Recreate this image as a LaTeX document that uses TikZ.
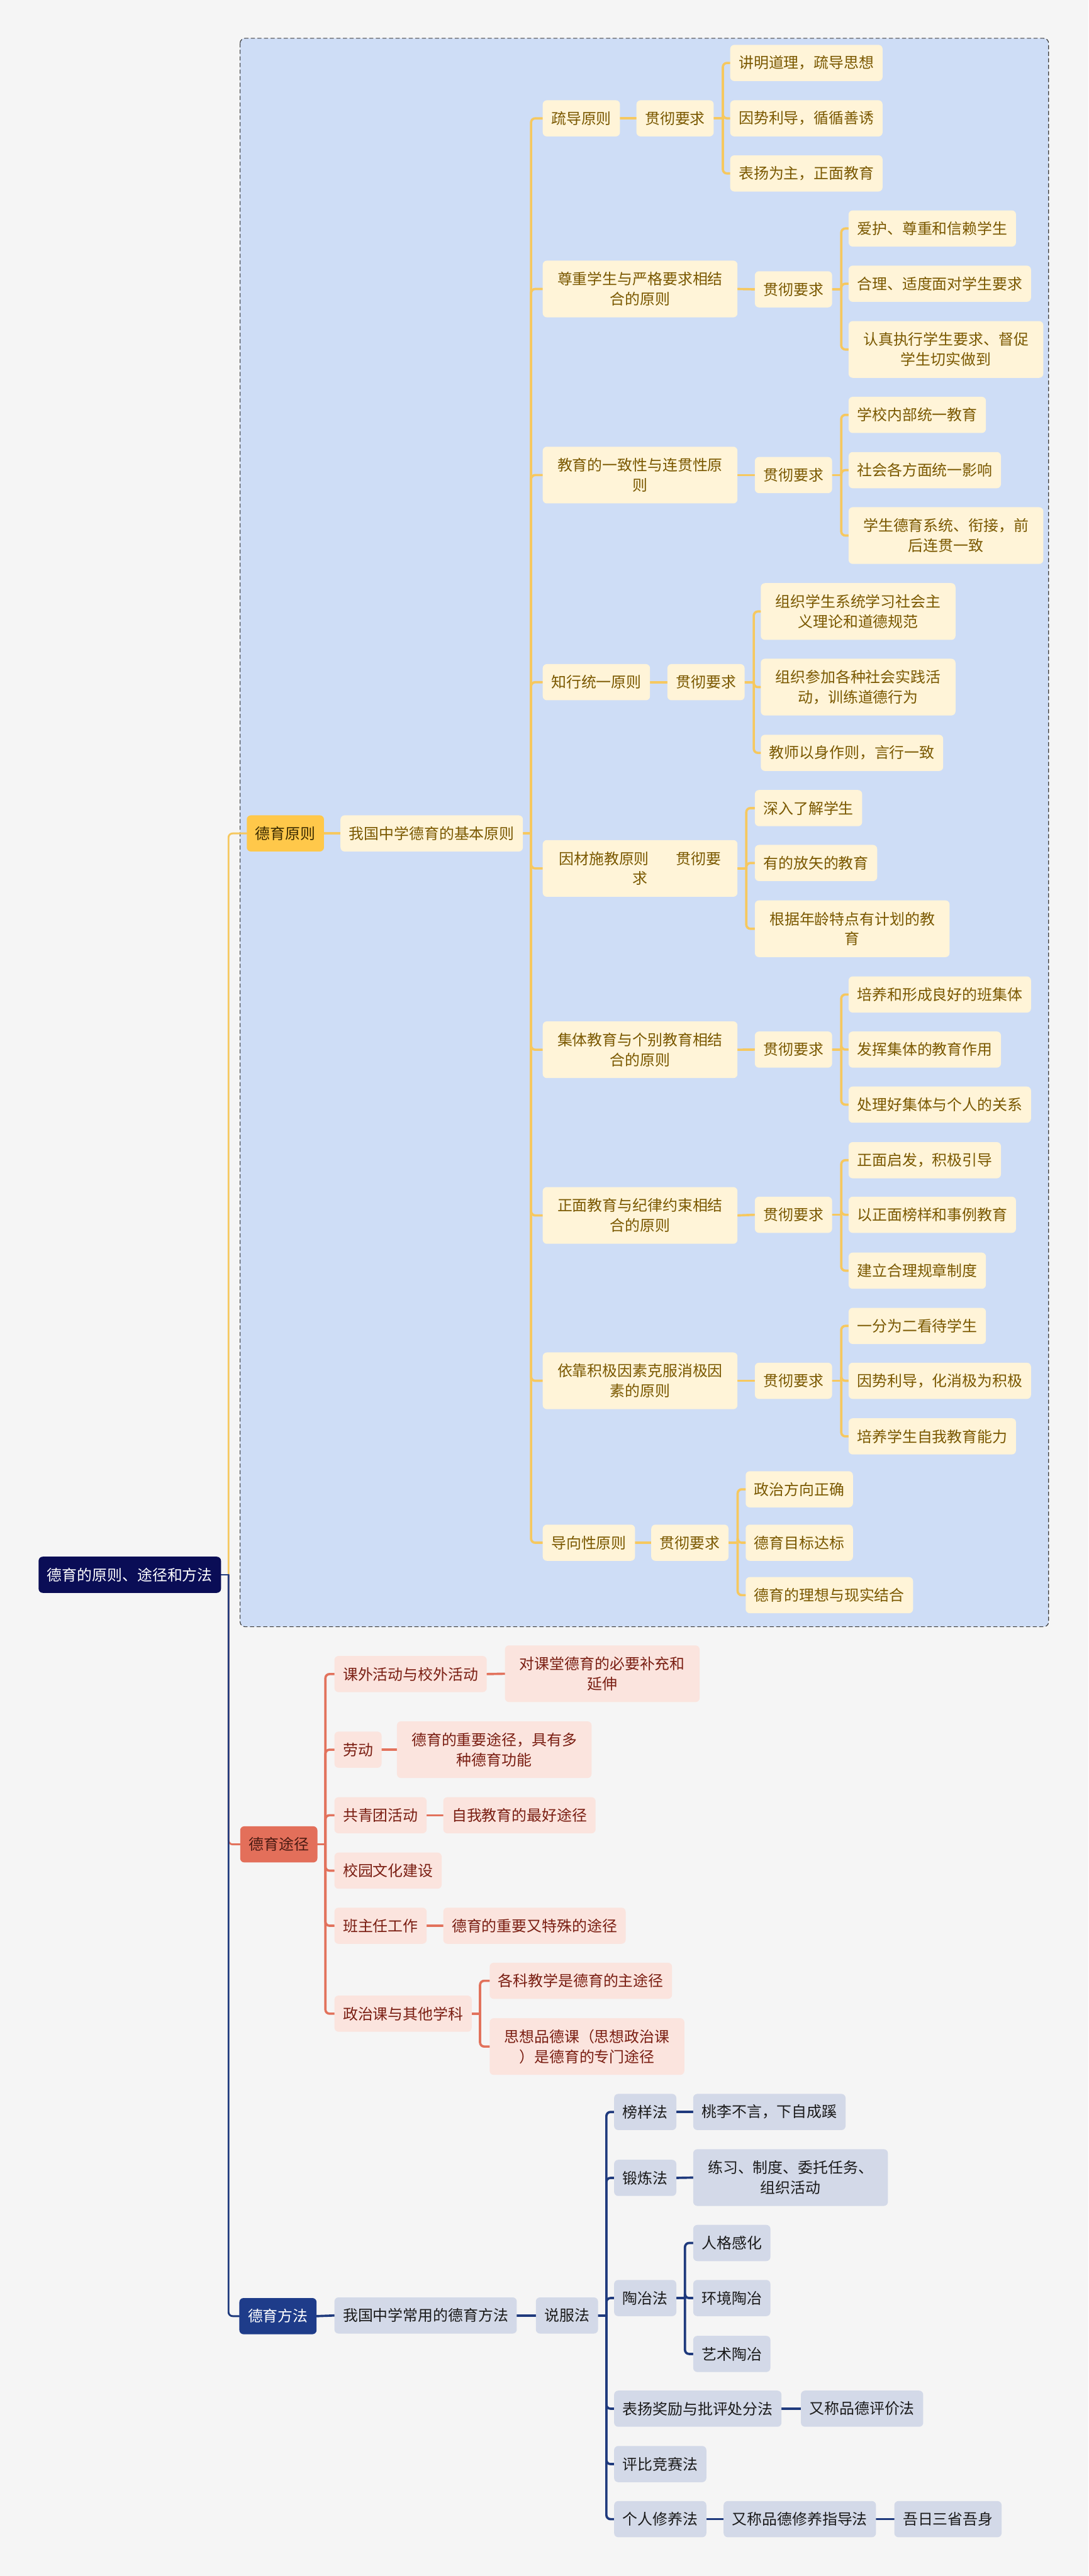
\documentclass[tikz,border=0pt]{standalone}
\usepackage{fontspec}
\newfontfamily\cjk{Noto Sans CJK SC}
\pgfdeclarelayer{bg}
\pgfdeclarelayer{links}
\pgfsetlayers{bg,links,main}
\definecolor{bgpaper}{HTML}{F5F5F5}
\definecolor{framefill}{HTML}{CEDDF6}
\definecolor{framedraw}{HTML}{3A3A3A}
\definecolor{rootfill}{HTML}{0A0D56}
\definecolor{goldfill}{HTML}{FFC84A}
\definecolor{goldtext}{HTML}{3B2B00}
\definecolor{creamfill}{HTML}{FFF4D8}
\definecolor{creamtext}{HTML}{7A5800}
\definecolor{goldline}{HTML}{F6C85F}
\definecolor{coralfill}{HTML}{E36F5A}
\definecolor{coraltext}{HTML}{4A1A12}
\definecolor{pinkfill}{HTML}{FBE4DE}
\definecolor{pinktext}{HTML}{7A1E12}
\definecolor{coralline}{HTML}{E2725C}
\definecolor{navyfill}{HTML}{1E3C8A}
\definecolor{greyfill}{HTML}{D3D9E8}
\definecolor{greytext}{HTML}{1A1A1A}
\definecolor{navyline}{HTML}{1F3A7D}

\begin{document}
\begin{tikzpicture}[x=1mm, y=-1mm,
  box/.style={anchor=west, rounded corners=2.5mm, inner xsep=5.2mm, inner ysep=1.5mm,
    minimum height=22mm, font=\cjk\fontsize{26}{34.6}\selectfont},
  two/.style={text width=108mm, align=center, minimum height=34.5mm},
  gold/.style={box, fill=creamfill, text=creamtext},
  coral/.style={box, fill=pinkfill, text=pinktext},
  navy/.style={box, fill=greyfill, text=greytext},
  gl/.style={draw=goldline, line width=1.4mm, line cap=round, rounded corners=2.5mm},
  cl/.style={draw=coralline, line width=1.4mm, line cap=round, rounded corners=2.5mm},
  nl/.style={draw=navyline, line width=1.4mm, line cap=round, rounded corners=2.5mm}]
  \useasboundingbox (0,0) rectangle (662,1567.1);

  % root and main branches
  \node[box, fill=rootfill, text=white] (root) at (23.4,958) {德育的原则、途径和方法};
  \node[box, fill=goldfill, text=goldtext] (yuanze) at (150,507) {德育原则};
  \node[box, fill=coralfill, text=coraltext] (tujing) at (146,1122) {德育途径};
  \node[box, fill=navyfill, text=white] (fangfa) at (145.5,1409) {德育方法};

  % principles
  \node[gold] (jiben) at (207,507) {我国中学德育的基本原则};

  \node[gold] (p1) at (330,72) {疏导原则};
  \node[gold] (q1) at (387,72) {贯彻要求};
  \node[gold] (p1a) at (444,38.3) {讲明道理，疏导思想};
  \node[gold] (p1b) at (444,72) {因势利导，循循善诱};
  \node[gold] (p1c) at (444,105.5) {表扬为主，正面教育};

  \node[gold, two] (p2) at (330,175.8) {尊重学生与严格要求相结\\合的原则};
  \node[gold] (q2) at (459,176) {贯彻要求};
  \node[gold] (p2a) at (516,139) {爱护、尊重和信赖学生};
  \node[gold] (p2b) at (516,172.6) {合理、适度面对学生要求};
  \node[gold, two] (p2c) at (516,212.6) {认真执行学生要求、督促\\学生切实做到};

  \node[gold, two] (p3) at (330,289) {教育的一致性与连贯性原\\则};
  \node[gold] (q3) at (459,289) {贯彻要求};
  \node[gold] (p3a) at (516,252.4) {学校内部统一教育};
  \node[gold] (p3b) at (516,286) {社会各方面统一影响};
  \node[gold, two] (p3c) at (516,325.8) {学生德育系统、衔接，前\\后连贯一致};

  \node[gold] (p4) at (330,415) {知行统一原则};
  \node[gold] (q4) at (405.8,415) {贯彻要求};
  \node[gold, two] (p4a) at (462.6,372) {组织学生系统学习社会主\\义理论和道德规范};
  \node[gold, two] (p4b) at (462.6,418) {组织参加各种社会实践活\\动，训练道德行为};
  \node[gold] (p4c) at (462.6,458) {教师以身作则，言行一致};

  \node[gold, two] (p5) at (330,528.3) {因材施教原则\hspace{1.8em}贯彻要\\求};
  \node[gold] (p5a) at (459,491.6) {深入了解学生};
  \node[gold] (p5b) at (459,525) {有的放矢的教育};
  \node[gold, two] (p5c) at (459,565) {根据年龄特点有计划的教\\育};

  \node[gold, two] (p6) at (330,638.6) {集体教育与个别教育相结\\合的原则};
  \node[gold] (q6) at (459,638.5) {贯彻要求};
  \node[gold] (p6a) at (516,605) {培养和形成良好的班集体};
  \node[gold] (p6b) at (516,638.5) {发挥集体的教育作用};
  \node[gold] (p6c) at (516,672) {处理好集体与个人的关系};

  \node[gold, two] (p7) at (330,739.4) {正面教育与纪律约束相结\\合的原则};
  \node[gold] (q7) at (459,739) {贯彻要求};
  \node[gold] (p7a) at (516,705.8) {正面启发，积极引导};
  \node[gold] (p7b) at (516,739) {以正面榜样和事例教育};
  \node[gold] (p7c) at (516,773) {建立合理规章制度};

  \node[gold, two] (p8) at (330,840) {依靠积极因素克服消极因\\素的原则};
  \node[gold] (q8) at (459,840) {贯彻要求};
  \node[gold] (p8a) at (516,806.6) {一分为二看待学生};
  \node[gold] (p8b) at (516,840) {因势利导，化消极为积极};
  \node[gold] (p8c) at (516,873.8) {培养学生自我教育能力};

  \node[gold] (p9) at (330,938.5) {导向性原则};
  \node[gold] (q9) at (396,938.5) {贯彻要求};
  \node[gold] (p9a) at (453.4,906) {政治方向正确};
  \node[gold] (p9b) at (453.4,938.5) {德育目标达标};
  \node[gold] (p9c) at (453.4,970.4) {德育的理想与现实结合};

  % ways
  \node[coral] (w1) at (203.3,1018.4) {课外活动与校外活动};
  \node[coral, two] (w1a) at (307,1018.2) {对课堂德育的必要补充和\\延伸};
  \node[coral] (w2) at (203.3,1064.4) {劳动};
  \node[coral, two] (w2a) at (241.3,1064.4) {德育的重要途径，具有多\\种德育功能};
  \node[coral] (w3) at (203.3,1104.3) {共青团活动};
  \node[coral] (w3a) at (269.5,1104.3) {自我教育的最好途径};
  \node[coral] (w4) at (203.3,1138) {校园文化建设};
  \node[coral] (w5) at (203.3,1171.5) {班主任工作};
  \node[coral] (w5a) at (269.5,1171.5) {德育的重要又特殊的途径};
  \node[coral] (w6) at (203.3,1225) {政治课与其他学科};
  \node[coral] (w6a) at (297.7,1205) {各科教学是德育的主途径};
  \node[coral, two] (w6b) at (297.7,1245) {思想品德课（思想政治课\\）是德育的专门途径};

  % methods
  \node[navy] (m0) at (203.3,1408.6) {我国中学常用的德育方法};
  \node[navy] (m1) at (325.8,1408.6) {说服法};
  \node[navy] (a1) at (373.4,1284.8) {榜样法};
  \node[navy] (a1a) at (421.5,1284.8) {桃李不言，下自成蹊};
  \node[navy] (a2) at (373.4,1324.9) {锻炼法};
  \node[navy, two] (a2a) at (421.5,1324.7) {练习、制度、委托任务、\\组织活动};
  \node[navy] (a3) at (373.4,1398) {陶冶法};
  \node[navy] (a3a) at (421.5,1364.5) {人格感化};
  \node[navy] (a3b) at (421.5,1398) {环境陶冶};
  \node[navy] (a3c) at (421.5,1432) {艺术陶冶};
  \node[navy] (a4) at (373.4,1465.3) {表扬奖励与批评处分法};
  \node[navy] (a4a) at (487,1465.3) {又称品德评价法};
  \node[navy] (a5) at (373.4,1499) {评比竞赛法};
  \node[navy] (a6) at (373.4,1532.5) {个人修养法};
  \node[navy] (a6a) at (440,1532.5) {又称品德修养指导法};
  \node[navy] (a6b) at (543.8,1532.5) {吾日三省吾身};

  \begin{pgfonlayer}{bg}
    \fill[bgpaper] (0,0) rectangle (662,1567.1);
    \filldraw[fill=framefill, draw=framedraw, line width=0.45mm,
      dash pattern=on 2.5mm off 1.5mm, rounded corners=3mm] (146,23.3) rectangle (637.7,989.6);
  \end{pgfonlayer}

  \begin{pgfonlayer}{links}
    % root links
    \coordinate (jr) at ([xshift=4.5mm]root.east);
    \draw[gl, line width=1.1mm] (jr) |- (yuanze.west);
    \draw[cl, line width=1.1mm] (jr) |- (tujing.west);
    \draw[nl, line width=1.1mm] (jr) |- (fangfa.west);
    \draw[nl, line width=1.1mm] (root.east) -- (jr);

    % principle links
    \draw[gl] (yuanze.east) -- (jiben.west);
    \draw[gl] (jiben.east) -- ++(4.9,0) coordinate (jp);
    \draw[gl] (jp) |- (p1.west);
    \draw[gl] (jp) |- (p2.west);
    \draw[gl] (jp) |- (p3.west);
    \draw[gl] (jp) |- (p4.west);
    \draw[gl] (jp) |- (p5.west);
    \draw[gl] (jp) |- (p6.west);
    \draw[gl] (jp) |- (p7.west);
    \draw[gl] (jp) |- (p8.west);
    \draw[gl] (jp) |- (p9.west);

    \draw[gl] (p1.east) -- (q1.west);
    \draw[gl] (q1.east) -- ++(5.5,0) coordinate (j1);
    \draw[gl] (j1) |- (p1a.west);
    \draw[gl] (j1) |- (p1b.west);
    \draw[gl] (j1) |- (p1c.west);

    \draw[gl] (p2.east) -- (q2.west);
    \draw[gl] (q2.east) -- ++(5.5,0) coordinate (j2);
    \draw[gl] (j2) |- (p2a.west);
    \draw[gl] (j2) |- (p2b.west);
    \draw[gl] (j2) |- (p2c.west);

    \draw[gl] (p3.east) -- (q3.west);
    \draw[gl] (q3.east) -- ++(5.5,0) coordinate (j3);
    \draw[gl] (j3) |- (p3a.west);
    \draw[gl] (j3) |- (p3b.west);
    \draw[gl] (j3) |- (p3c.west);

    \draw[gl] (p4.east) -- (q4.west);
    \draw[gl] (q4.east) -- ++(5.5,0) coordinate (j4);
    \draw[gl] (j4) |- (p4a.west);
    \draw[gl] (j4) |- (p4b.west);
    \draw[gl] (j4) |- (p4c.west);

    \draw[gl] (p5.east) -- ++(5.3,0) coordinate (j5);
    \draw[gl] (j5) |- (p5a.west);
    \draw[gl] (j5) |- (p5b.west);
    \draw[gl] (j5) |- (p5c.west);

    \draw[gl] (p6.east) -- (q6.west);
    \draw[gl] (q6.east) -- ++(5.5,0) coordinate (j6);
    \draw[gl] (j6) |- (p6a.west);
    \draw[gl] (j6) |- (p6b.west);
    \draw[gl] (j6) |- (p6c.west);

    \draw[gl] (p7.east) -- (q7.west);
    \draw[gl] (q7.east) -- ++(5.5,0) coordinate (j7);
    \draw[gl] (j7) |- (p7a.west);
    \draw[gl] (j7) |- (p7b.west);
    \draw[gl] (j7) |- (p7c.west);

    \draw[gl] (p8.east) -- (q8.west);
    \draw[gl] (q8.east) -- ++(5.5,0) coordinate (j8);
    \draw[gl] (j8) |- (p8a.west);
    \draw[gl] (j8) |- (p8b.west);
    \draw[gl] (j8) |- (p8c.west);

    \draw[gl] (p9.east) -- (q9.west);
    \draw[gl] (q9.east) -- ++(5.5,0) coordinate (j9);
    \draw[gl] (j9) |- (p9a.west);
    \draw[gl] (j9) |- (p9b.west);
    \draw[gl] (j9) |- (p9c.west);

    % way links
    \draw[cl] (tujing.east) -- ++(4.8,0) coordinate (jw);
    \draw[cl] (jw) |- (w1.west);
    \draw[cl] (jw) |- (w2.west);
    \draw[cl] (jw) |- (w3.west);
    \draw[cl] (jw) |- (w4.west);
    \draw[cl] (jw) |- (w5.west);
    \draw[cl] (jw) |- (w6.west);
    \draw[cl] (w1.east) -- (w1a.west);
    \draw[cl] (w2.east) -- (w2a.west);
    \draw[cl] (w3.east) -- (w3a.west);
    \draw[cl] (w5.east) -- (w5a.west);
    \draw[cl] (w6.east) -- ++(5,0) coordinate (jw6);
    \draw[cl] (jw6) |- (w6a.west);
    \draw[cl] (jw6) |- (w6b.west);

    % method links
    \draw[nl] (fangfa.east) -- (m0.west);
    \draw[nl] (m0.east) -- (m1.west);
    \draw[nl] (m1.east) -- ++(5,0) coordinate (jm);
    \draw[nl] (jm) |- (a1.west);
    \draw[nl] (jm) |- (a2.west);
    \draw[nl] (jm) |- (a3.west);
    \draw[nl] (jm) |- (a4.west);
    \draw[nl] (jm) |- (a5.west);
    \draw[nl] (jm) |- (a6.west);
    \draw[nl] (a1.east) -- (a1a.west);
    \draw[nl] (a2.east) -- (a2a.west);
    \draw[nl] (a3.east) -- ++(5.2,0) coordinate (ja3);
    \draw[nl] (ja3) |- (a3a.west);
    \draw[nl] (ja3) |- (a3b.west);
    \draw[nl] (ja3) |- (a3c.west);
    \draw[nl] (a4.east) -- (a4a.west);
    \draw[nl] (a6.east) -- (a6a.west);
    \draw[nl] (a6a.east) -- (a6b.west);
  \end{pgfonlayer}
\end{tikzpicture}
\end{document}
